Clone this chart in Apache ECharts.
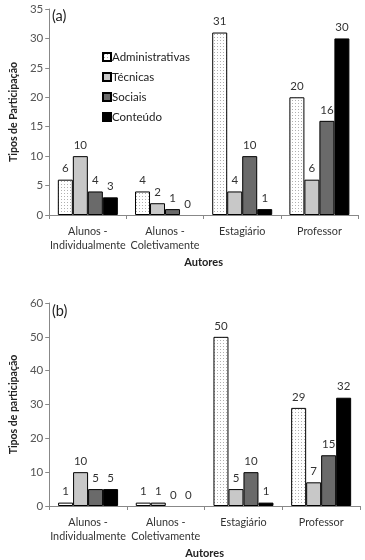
<!DOCTYPE html>
<html><head><meta charset="utf-8">
<script src="https://cdn.jsdelivr.net/npm/echarts@6/dist/echarts.min.js"></script>
<style>html,body{margin:0;padding:0;background:#fff}#c{width:365px;height:560px}</style>
</head><body><div id="c"></div>
<script>
const categories = ['Alunos -\nIndividualmente', 'Alunos -\nColetivamente', 'Estagiário', 'Professor'];
const seriesNames = ['Administrativas', 'Técnicas', 'Sociais', 'Conteúdo'];
// Chart (a)
const adminA = [6, 4, 31, 20];
const tecnicasA = [10, 2, 4, 6];
const sociaisA = [4, 1, 10, 16];
const conteudoA = [3, 0, 1, 30];
// Chart (b)
const adminB = [1, 1, 50, 29];
const tecnicasB = [10, 1, 5, 7];
const sociaisB = [5, 0, 10, 15];
const conteudoB = [5, 0, 1, 32];
const yTicksA = {min: 0, max: 35, interval: 5};
const yTicksB = {min: 0, max: 60, interval: 10};

const pc = document.createElement('canvas');
pc.width = 3; pc.height = 3;
const pctx = pc.getContext('2d');
pctx.fillStyle = '#ffffff'; pctx.fillRect(0, 0, 3, 3);
pctx.fillStyle = '#b0b0b0'; pctx.fillRect(1, 1, 1, 1);
const dotted = {image: pc, repeat: 'repeat'};

const fills = [dotted, '#c8c8c8', '#6a6a6a', '#000000'];
const font = 'Lato';

function mkX(gi) {
  return {
    type: 'category', gridIndex: gi, data: categories,
    name: 'Autores', nameLocation: 'middle', nameGap: 42,
    nameTextStyle: {fontFamily: font, fontWeight: 'bold', fontSize: 11, color: '#222'},
    axisLine: {lineStyle: {color: '#888', width: 1}},
    axisTick: {show: true, length: 4, lineStyle: {color: '#888'}},
    axisLabel: {interval: 0, fontFamily: font, fontSize: 10.8, color: '#333', lineHeight: 14, margin: 10}
  };
}
function mkY(gi, t, name) {
  return {
    type: 'value', gridIndex: gi, min: t.min, max: t.max, interval: t.interval,
    name: name, nameLocation: 'middle', nameGap: 27, nameRotate: 90,
    nameTextStyle: {fontFamily: font, fontWeight: 'bold', fontSize: 10.5, color: '#222'},
    splitLine: {show: false},
    axisLine: {show: true, lineStyle: {color: '#888', width: 1}},
    axisTick: {show: true, length: 4, lineStyle: {color: '#888'}},
    axisLabel: {fontFamily: font, fontSize: 11.5, color: '#555', margin: 6}
  };
}
function mkSeries(gi, arrs) {
  return arrs.map((d, i) => ({
    name: seriesNames[i], type: 'bar', xAxisIndex: gi, yAxisIndex: gi,
    data: d.map(v => v === 0 ? {value: v, itemStyle: {borderWidth: 0}} : v),
    barWidth: 15, barGap: '0%',
    itemStyle: {color: fills[i], borderColor: '#000', borderWidth: 1},
    label: {show: true, position: 'top', distance: 5, fontFamily: font, fontSize: 11.5, color: '#333'},
    emphasis: {disabled: true}
  }));
}

const chart = echarts.init(document.getElementById('c'), null, {renderer: 'canvas'});
chart.setOption({
  animation: false,
  grid: [
    {left: 38, top: 9, width: 320, height: 206},
    {left: 38, top: 303, width: 322, height: 205}
  ],
  xAxis: [mkX(0), mkX(1)],
  yAxis: [mkY(0, yTicksA, 'Tipos de Participação'), mkY(1, yTicksB, 'Tipos de participação')],
  legend: {
    data: seriesNames, orient: 'vertical', left: 97, top: 46,
    icon: 'rect', itemWidth: 8, itemHeight: 8, itemGap: 8,
    textStyle: {fontFamily: font, fontSize: 11.5, color: '#222', padding: [0, 0, 0, -4]},
    selectedMode: false
  },
  graphic: [
    {type: 'text', left: 52, top: 9, style: {text: '(a)', fontFamily: font, fontSize: 14.5, fill: '#222'}},
    {type: 'text', left: 52, top: 304, style: {text: '(b)', fontFamily: font, fontSize: 14.5, fill: '#222'}}
  ],
  series: [...mkSeries(0, [adminA, tecnicasA, sociaisA, conteudoA]), ...mkSeries(1, [adminB, tecnicasB, sociaisB, conteudoB])]
});
</script></body></html>
